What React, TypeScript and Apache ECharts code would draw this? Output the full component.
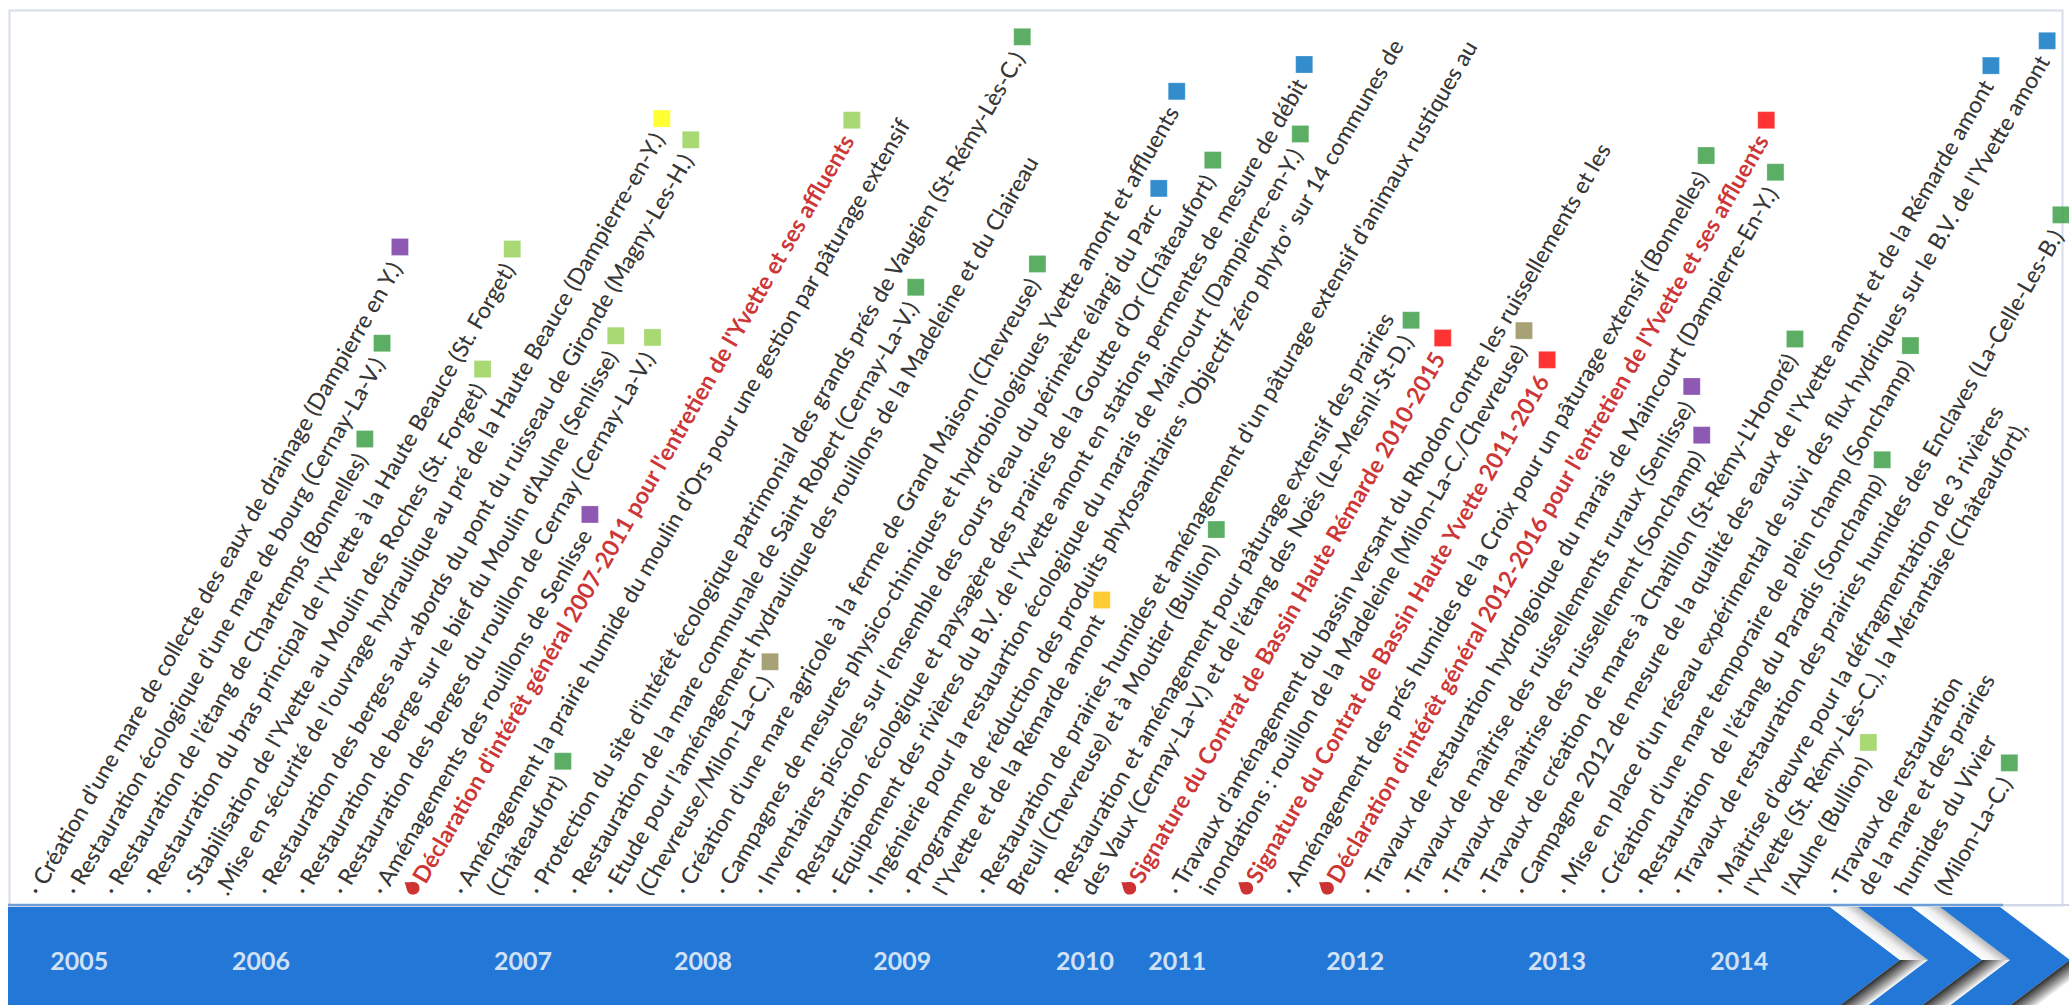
import React, { useEffect, useRef } from "react";
import * as echarts from "echarts";

// ---------- DATA ----------
// position of every text line along the timeline (slot units, reading order)
const lineSlots = [
  0, 0.99, 1.99, 2.98, 4.02, 4.93, 6.01, 7.01, 8.0, 9.04, 9.94, 11.16, 12.07, 13.15, 14.15, 15.09, 16.0,
  16.99, 18.03, 19.03, 20.02, 20.97, 21.92, 22.91, 23.77, 24.86, 25.71, 26.8, 27.65, 28.75, 29.92, 30.77,
  31.82, 32.9, 33.94, 34.97, 36.02, 37.02, 38.01, 39.01, 40.11, 41.14, 42.13, 43.11, 44.21, 45.07, 46.05,
  47.23, 48.04, 49.01, 50.06,
];

const lineTexts = [
  "· Création d'une mare de collecte des eaux de drainage (Dampierre en Y.)",
  "· Restauration écologique d'une mare de bourg (Cernay-La-V.)",
  "· Restauration de l'étang de Chartemps (Bonnelles)",
  "· Restauration du bras principal de l'Yvette à la Haute Beauce (St. Forget)",
  "· Stabilisation de l'Yvette au Moulin des Roches (St. Forget)",
  ".Mise en sécurité de l'ouvrage hydraulique au pré de la Haute Beauce (Dampierre-en-Y.)",
  "· Restauration des berges aux abords du pont du ruisseau de Gironde (Magny-Les-H.)",
  "· Restauration de berge sur le bief du Moulin d'Aulne (Senlisse)",
  "· Restauration des berges du rouillon de Cernay (Cernay-La-V.)",
  "· Aménagements des rouillons de Senlisse",
  "Déclaration d'intérêt général 2007-2011 pour l'entretien de l'Yvette et ses affluents",
  "· Aménagement la prairie humide du moulin d'Ors pour une gestion par pâturage extensif",
  "(Châteaufort)",
  "· Protection du site d'intérêt écologique patrimonial des grands prés de Vaugien (St-Rémy-Lès-C.)",
  "· Restauration de la mare communale de Saint Robert (Cernay-La-V.)",
  "· Etude pour l'aménagement hydraulique des rouillons de la Madeleine et du Claireau",
  "(Chevreuse/Milon-La-C.)",
  "· Création d'une mare agricole à la ferme de Grand Maison (Chevreuse)",
  "· Campagnes de mesures physico-chimiques et hydrobiologiques Yvette amont et affluents",
  "· Inventaires piscoles sur l'ensemble des cours d'eau du périmètre élargi du Parc",
  "· Restauration écologique et paysagère des prairies de la Goutte d'Or (Châteaufort)",
  "· Equipement des rivières du B.V. de l'Yvette amont en stations permentes de mesure de débit",
  "· Ingénierie pour la restauartion écologique du marais de Maincourt (Dampierre-en-Y.)",
  "· Programme de réduction des produits phytosanitaires \"Objectif zéro phyto\" sur 14 communes de",
  "l'Yvette et de la Rémarde amont",
  "· Restauration de prairies humides et aménagement d'un pâturage extensif d'animaux rustiques au",
  "Breuil (Chevreuse) et à Moutier (Bullion)",
  "· Restauration et aménagement pour pâturage extensif des prairies",
  "des Vaux (Cernay-La-V.) et de l'étang des Noës (Le-Mesnil-St-D.)",
  "Signature du Contrat de Bassin Haute Rémarde 2010-2015",
  "· Travaux d'aménagement du bassin versant du Rhodon contre les ruissellements et les",
  "inondations : rouillon de la Madeleine (Milon-La-C./Chevreuse)",
  "Signature du Contrat de Bassin Haute Yvette 2011-2016",
  "· Aménagement des prés humides de la Croix pour un pâturage extensif (Bonnelles)",
  "Déclaration d'intérêt général 2012-2016 pour l'entretien de l'Yvette et ses affluents",
  "· Travaux de restauration hydrolgoique du marais de Maincourt (Dampierre-En-Y.)",
  "· Travaux de maîtrise des ruissellements ruraux (Senlisse)",
  "· Travaux de maîtrise des ruissellement (Sonchamp)",
  "· Travaux de création de mares à Chatillon (St-Rémy-L'Honoré)",
  "· Campagne 2012 de mesure de la qualité des eaux de l'Yvette amont et de la Rémarde amont",
  "· Mise en place d'un réseau expérimental de suivi des flux hydriques sur le B.V. de l'Yvette amont",
  "· Création d'une mare temporaire de plein champ (Sonchamp)",
  "· Restauration  de l'étang du Paradis (Sonchamp)",
  "· Travaux de restauration des prairies humides des Enclaves (La-Celle-Les-B.)",
  "· Maîtrise d'œuvre pour la défragmentation de 3 rivières",
  "l'Yvette (St. Rémy-Lès-C.), la Mérantaise (Châteaufort),",
  "l'Aulne (Bullion)",
  "· Travaux de restauration",
  "de la mare et des prairies",
  "humides du Vivier",
  "(Milon-La-C.)",
];

// milestone lines (red, bold, drop bullet)
const milestoneLines = [10, 29, 32, 34];

// action type marker at the end of each item ("" = none)
const markerKinds = [
  "P", "G", "G", "L", "L", "Y", "L", "L", "L", "P", "L", "", "G", "G", "G", "", "O", "G", "B", "B", "G",
  "B", "G", "", "A", "", "G", "", "G", "R", "", "O", "R", "G", "R", "G", "P", "P", "G", "B", "B", "G",
  "G", "G", "", "", "L", "", "", "", "G",
];

const yearLabels = ["2005", "2006", "2007", "2008", "2009", "2010", "2011", "2012", "2013", "2014"];
const yearSlots = [1.22, 5.99, 12.87, 17.59, 22.82, 27.62, 30.04, 34.71, 40.01, 44.79];

// ---------- STYLE / LAYOUT ----------
const KIND_COLORS: Record<string, string> = {
  P: "#7030A0",
  G: "#339A3F",
  L: "#92D050",
  Y: "#FFFF00",
  O: "#948A54",
  B: "#0070C0",
  A: "#FFC000",
  R: "#FF0000",
};
const W = 2069;
const H = 1005;
const SLOT_PX = 38.1;
const SLOT0_PX = 32.7;
const BASE_Y = 893;
const ANGLE = 60;
const FONT = "Lato";
const NORMAL_WEIGHT = 500;
const SPACER = 14;
const MARKER_GAP = 16;
const MARKER_PERP = 5;
const DROP_Y = 6;
const YEAR_Y = BASE_Y - 960;
// reference text lengths (px) used to size the fonts
const CALIB: [number, number][] = [
  [0, 734],
  [13, 970],
  [21, 940],
  [39, 932],
  [40, 963],
];
const CALIB_BOLD: [number, number][] = [
  [10, 881],
  [29, 622],
  [32, 591],
  [34, 874],
];

const BT = 907;
const BM = 960;
const BB = 1013;
const TIP = 70;
const GAP = 28;

function gapArms(xl: number, lowerOnly = false) {
  const els: any[] = [];
  const um = [xl + TIP / 2, (BT + BM) / 2];
  const lm = [xl + TIP / 2, (BM + BB) / 2];
  if (!lowerOnly)
    els.push({
      type: "polygon",
      z: 1,
      shape: { points: [[xl, BT], [xl + GAP, BT], [xl + GAP + TIP, BM], [xl + TIP, BM]] },
      style: {
        fill: {
          type: "linear",
          x: um[0],
          y: um[1],
          x2: um[0] + 10.2,
          y2: um[1] - 13.5,
          global: true,
          colorStops: [
            { offset: 0, color: "#ffffff" },
            { offset: 0.5, color: "#f0f0f0" },
            { offset: 1, color: "#b5b5b5" },
          ],
        },
      },
    });
  els.push({
    type: "polygon",
    z: 1,
    shape: { points: [[xl + TIP, BM], [xl + GAP + TIP, BM], [xl + GAP, BB], [xl, BB]] },
    style: {
      fill: {
        type: "linear",
        x: lm[0],
        y: lm[1],
        x2: lm[0] + 10.2,
        y2: lm[1] + 13.5,
        global: true,
        colorStops: [
          { offset: 0, color: "#2d2d2d" },
          { offset: 0.55, color: "#9a9a9a" },
          { offset: 1, color: "#ffffff" },
        ],
      },
    },
  });
  return els;
}

function median(a: number[]) {
  const s = a.slice().sort((x, y) => x - y);
  const m = Math.floor(s.length / 2);
  return s.length % 2 ? s[m] : (s[m - 1] + s[m]) / 2;
}

export default function App() {
  const ref = useRef<HTMLDivElement>(null);
  useEffect(() => {
    const el = ref.current!;
    const chart = echarts.init(el, undefined, { renderer: "svg" });
    const ctx = document.createElement("canvas").getContext("2d")!;
    const measure = (t: string, size: number, weight: number | string) => {
      ctx.font = `${weight} ${size}px ${FONT}`;
      return ctx.measureText(t).width;
    };
    const fs = median(CALIB.map(([i, target]) => (target / measure(lineTexts[i], 100, NORMAL_WEIGHT)) * 100));
    const fsB = median(
      CALIB_BOLD.map(([i, target]) => ((target - SPACER) / measure(lineTexts[i], 100, "bold")) * 100)
    );
    const rad = (ANGLE * Math.PI) / 180;

    const lineData = lineTexts.map((t, i) => {
      const red = milestoneLines.indexOf(i) >= 0;
      return {
        value: [lineSlots[i], 0],
        label: red
          ? {
              formatter: `{s| }{r|${t}}`,
              rich: {
                s: { width: SPACER, fontSize: fsB, fontFamily: FONT },
                r: { color: "#C00000", fontWeight: "bold", fontSize: fsB, fontFamily: FONT },
              },
            }
          : { formatter: t },
      };
    });

    const markerData: any[] = [];
    lineTexts.forEach((t, i) => {
      const k = markerKinds[i];
      if (!k) return;
      const red = milestoneLines.indexOf(i) >= 0;
      const w = red ? SPACER + measure(t, fsB, "bold") : measure(t, fs, NORMAL_WEIGHT);
      const dist = w + MARKER_GAP;
      markerData.push({
        value: [
          lineSlots[i] + (dist * Math.cos(rad) - MARKER_PERP * Math.sin(rad)) / SLOT_PX,
          dist * Math.sin(rad) + MARKER_PERP * Math.cos(rad),
        ],
        itemStyle: { color: KIND_COLORS[k] },
      });
    });

    const graphic: any[] = [
      {
        type: "rect",
        z: 0,
        shape: { x: 9.5, y: 10.5, width: 2053, height: 895 },
        style: { fill: "none", stroke: "#D5DEEA", lineWidth: 2 },
      },
      {
        type: "line",
        z: 1,
        shape: { x1: 2003, y1: 905, x2: W, y2: 905 },
        style: { stroke: "#D0D8E4", lineWidth: 2 },
      },
      {
        type: "line",
        z: 1,
        shape: { x1: 8, y1: 905, x2: 2003, y2: 905 },
        style: { stroke: "#6E9ED8", lineWidth: 2.5 },
      },
      {
        type: "polygon",
        z: 1,
        shape: { points: [[8, BT], [1830, BT], [1830 + TIP, BM], [1830, BB], [8, BB]] },
        style: { fill: "#2277D7" },
      },
      ...gapArms(1830),
      {
        type: "polygon",
        z: 1,
        shape: {
          points: [[1858, BT], [1912, BT], [1912 + TIP, BM], [1912, BB], [1858, BB], [1858 + TIP, BM]],
        },
        style: { fill: "#2277D7" },
      },
      ...gapArms(1912),
      {
        type: "polygon",
        z: 1,
        shape: {
          points: [[1940, BT], [2000, BT], [2000 + TIP, BM], [2000, BB], [1940, BB], [1940 + TIP, BM]],
        },
        style: { fill: "#2277D7" },
      },
      ...gapArms(2000, true),
    ];

    chart.setOption({
      animation: false,
      backgroundColor: "#ffffff",
      grid: { left: 0, right: 0, top: 0, bottom: 0 },
      xAxis: {
        type: "value",
        min: -SLOT0_PX / SLOT_PX,
        max: (W - SLOT0_PX) / SLOT_PX,
        show: false,
      },
      yAxis: { type: "value", min: -(H - BASE_Y), max: BASE_Y, show: false },
      graphic,
      series: [
        {
          name: "Actions",
          type: "scatter",
          z: 5,
          silent: true,
          symbolSize: 1,
          itemStyle: { color: "rgba(0,0,0,0)" },
          label: {
            show: true,
            position: [0, 0],
            rotate: ANGLE,
            align: "left",
            verticalAlign: "middle",
            fontFamily: FONT,
            fontWeight: NORMAL_WEIGHT,
            fontSize: fs,
            color: "#000000",
          },
          data: lineData,
        },
        {
          name: "Type",
          type: "scatter",
          z: 6,
          silent: true,
          symbol: "rect",
          symbolSize: 17,
          itemStyle: { borderColor: "rgba(255,255,255,0.35)", borderWidth: 0.8 },
          data: markerData,
        },
        {
          name: "Jalons",
          type: "scatter",
          z: 6,
          silent: true,
          symbol: "path://M50,0 C58,22 100,52 100,78 A50,50 0 1,1 0,78 C0,52 42,22 50,0 Z",
          symbolSize: [13, 17],
          symbolRotate: 55,
          itemStyle: { color: "#C00000" },
          data: milestoneLines.map((i) => [lineSlots[i], DROP_Y]),
        },
        {
          name: "Années",
          type: "scatter",
          z: 6,
          silent: true,
          symbolSize: 1,
          itemStyle: { color: "rgba(0,0,0,0)" },
          label: {
            show: true,
            position: "inside",
            formatter: "{b}",
            color: "#ffffff",
            fontWeight: "bold",
            fontSize: 25,
            fontFamily: FONT,
          },
          data: yearSlots.map((s, i) => ({ name: yearLabels[i], value: [s, YEAR_Y] })),
        },
      ],
    });
    return () => chart.dispose();
  }, []);
  return (
    <div
      ref={ref}
      style={{ position: "absolute", left: 0, top: 0, width: W, height: H, background: "#ffffff" }}
    />
  );
}
